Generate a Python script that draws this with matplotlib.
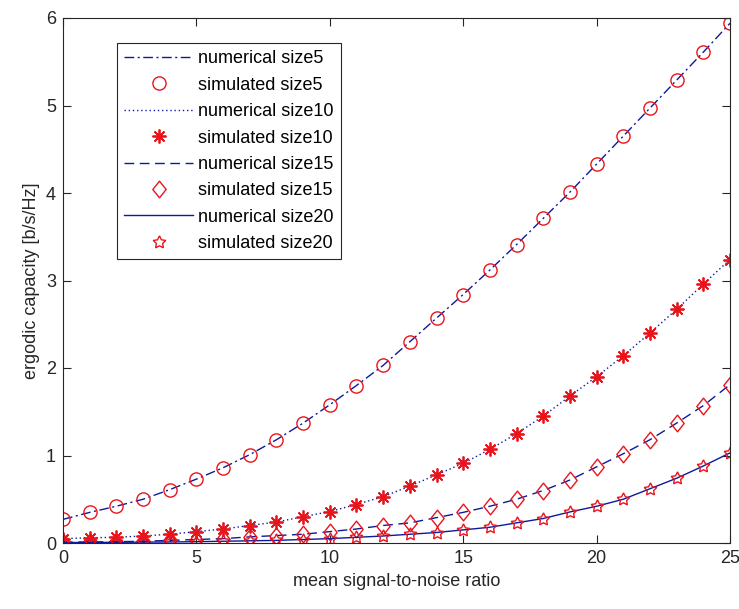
import matplotlib
matplotlib.use("Agg")
import matplotlib.pyplot as plt
from matplotlib.path import Path

plt.rcParams['font.family'] = ['Liberation Sans', 'DejaVu Sans']

snr = list(range(26))

cap_size5 = [0.27, 0.35, 0.42, 0.50, 0.61, 0.73, 0.86, 1.01, 1.18, 1.37,
             1.58, 1.80, 2.03, 2.30, 2.57, 2.84, 3.12, 3.41, 3.71, 4.01,
             4.33, 4.65, 4.97, 5.29, 5.61, 5.94]
cap_size10 = [0.05, 0.06, 0.065, 0.08, 0.10, 0.13, 0.16, 0.20, 0.24, 0.30,
              0.36, 0.44, 0.53, 0.65, 0.78, 0.91, 1.07, 1.25, 1.45, 1.68,
              1.90, 2.14, 2.40, 2.67, 2.96, 3.24]
cap_size15 = [0.01, 0.012, 0.015, 0.02, 0.03, 0.04, 0.05, 0.07, 0.085, 0.10,
              0.13, 0.16, 0.20, 0.23, 0.29, 0.35, 0.42, 0.50, 0.60, 0.72,
              0.87, 1.02, 1.18, 1.37, 1.57, 1.81]
cap_size20 = [0.005, 0.006, 0.008, 0.01, 0.012, 0.015, 0.02, 0.025, 0.03, 0.04,
              0.05, 0.065, 0.08, 0.10, 0.12, 0.15, 0.18, 0.23, 0.28, 0.355,
              0.42, 0.50, 0.62, 0.74, 0.88, 1.03]

sizes = ["5", "10", "15", "20"]
curves = [cap_size5, cap_size10, cap_size15, cap_size20]
line_styles = [(0, (7, 2.5, 1.5, 2.5)), (0, (1, 2)), (0, (7, 4)), '-']

# MATLAB-like diamond: a bit narrower than tall
diamond = Path([(0, 1), (0.8, 0), (0, -1), (-0.8, 0), (0, 1)],
               [Path.MOVETO, Path.LINETO, Path.LINETO, Path.LINETO, Path.CLOSEPOLY])
marker_specs = [
    dict(marker='o', markersize=9.5, markeredgewidth=1.0),
    dict(marker=(8, 2, 0), markersize=10, markeredgewidth=1.3),
    dict(marker=diamond, markersize=12, markeredgewidth=1.0),
    dict(marker=(5, 1, 0), markersize=9.5, markeredgewidth=1.0),
]

line_color = '#0d1a9c'
marker_color = '#e8141c'

fig = plt.figure(figsize=(7.39, 6.09), dpi=100)
ax = fig.add_axes([63 / 739, 66 / 609, 667 / 739, 525 / 609])

for s, c, ls, mk in zip(sizes, curves, line_styles, marker_specs):
    ax.plot(snr, c, linestyle=ls, color=line_color, linewidth=1.0,
            label=f"numerical size{s}")
    ax.plot(snr, c, linestyle='none', markerfacecolor='none',
            markeredgecolor=marker_color, label=f"simulated size{s}", **mk)

ax.set_xlim(0, 25)
ax.set_ylim(0, 6)
ax.set_xticks([0, 5, 10, 15, 20, 25])
ax.set_yticks([0, 1, 2, 3, 4, 5, 6])
ax.tick_params(direction='in', length=6, width=0.8, labelsize=13,
               colors='#262626', top=True, right=True, pad=5)
for sp in ax.spines.values():
    sp.set_color('#262626')
    sp.set_linewidth(0.8)

ax.set_xlabel("mean signal-to-noise ratio", fontsize=13, color='#262626')
ax.set_ylabel("ergodic capacity [b/s/Hz]", fontsize=13, color='#262626')

leg = ax.legend(loc='upper left', bbox_to_anchor=(0.081, 0.952),
                fontsize=13, handlelength=3.8, handletextpad=0.3,
                labelspacing=0.52, borderpad=0.4, fancybox=False,
                framealpha=1, edgecolor='#262626', borderaxespad=0)
leg.get_frame().set_linewidth(0.8)

fig.savefig("out.png", dpi=100)
